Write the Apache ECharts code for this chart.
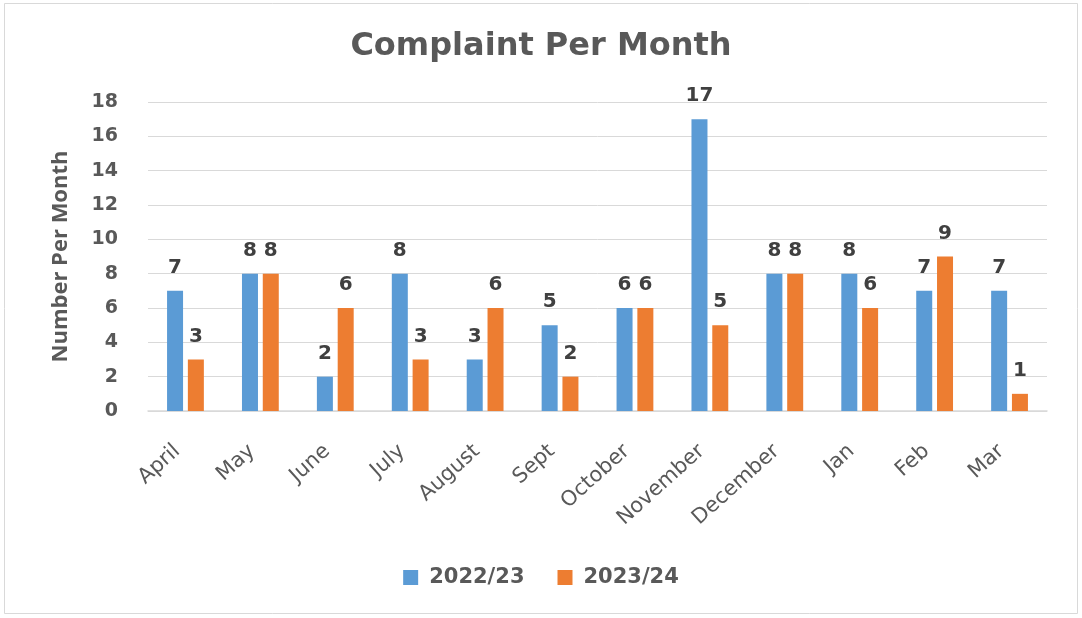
<!DOCTYPE html>
<html>
<head>
    <meta charset="utf-8">
    <script src="https://cdn.jsdelivr.net/npm/echarts@6/dist/echarts.min.js"></script>
    <style type="text/css">
        html, body { margin: 0; padding: 0; background: #fff; }
    </style>
</head>
<body>
    <div id="main" style="width: 1082px;height:618px;"></div>
    <script type="text/javascript">
        var months = ['April', 'May', 'June', 'July', 'August', 'Sept', 'October', 'November', 'December', 'Jan', 'Feb', 'Mar'];
        var year2223 = [7, 8, 2, 8, 3, 5, 6, 17, 8, 8, 7, 7];
        var year2324 = [3, 8, 6, 3, 6, 2, 6, 5, 8, 6, 9, 1];
        var yTicks = [0, 2, 4, 6, 8, 10, 12, 14, 16, 18];

        var font = 'DejaVu Sans';
        var grey = '#595959';

        var myChart = echarts.init(document.getElementById('main'));

        var labelStyle = {
            show: true,
            position: 'top',
            distance: 13,
            color: '#404040',
            fontFamily: font,
            fontWeight: 'bold',
            fontSize: 20
        };

        var option = {
            backgroundColor: '#fff',
            animation: false,
            graphic: [{
                type: 'rect',
                shape: { x: 4.5, y: 3.5, width: 1073, height: 610 },
                style: { fill: 'none', stroke: '#d9d9d9', lineWidth: 1 },
                silent: true
            }],
            title: {
                text: 'Complaint Per Month',
                left: 'center',
                top: 26,
                textStyle: { color: grey, fontFamily: font, fontWeight: 'bold', fontSize: 32 }
            },
            legend: {
                bottom: 25,
                left: 'center',
                itemWidth: 15,
                itemHeight: 15,
                itemGap: 33,
                icon: 'rect',
                textStyle: { color: grey, fontFamily: font, fontSize: 21, fontWeight: 'bold', padding: [0, 0, 0, 6] },
                data: ['2022/23', '2023/24']
            },
            grid: {
                left: 148,
                right: 35,
                top: 102,
                bottom: 207
            },
            xAxis: {
                type: 'category',
                data: months,
                axisLine: { lineStyle: { color: '#d9d9d9', width: 1.5 } },
                axisTick: { show: false },
                axisLabel: {
                    rotate: 42,
                    margin: 30,
                    padding: [0, 11, 0, 0],
                    interval: 0,
                    color: grey,
                    fontFamily: font,
                    fontSize: 21
                }
            },
            yAxis: {
                type: 'value',
                min: yTicks[0],
                max: yTicks[yTicks.length - 1],
                interval: 2,
                name: 'Number Per Month',
                nameLocation: 'middle',
                nameGap: 76,
                nameRotate: 90,
                nameTextStyle: { color: grey, fontFamily: 'Open Sans', fontWeight: 'bold', fontSize: 22 },
                axisLine: { show: false },
                axisTick: { show: false },
                splitLine: { lineStyle: { color: '#d9d9d9', width: 1 } },
                axisLabel: {
                    margin: 30,
                    color: grey,
                    fontFamily: font,
                    fontWeight: 'bold',
                    fontSize: 19
                }
            },
            series: [{
                name: '2022/23',
                type: 'bar',
                barWidth: 16,
                barGap: '30%',
                itemStyle: { color: '#5b9bd5' },
                label: labelStyle,
                data: year2223
            }, {
                name: '2023/24',
                type: 'bar',
                barWidth: 16,
                barGap: '30%',
                itemStyle: { color: '#ed7d31' },
                label: labelStyle,
                data: year2324
            }]
        };

        myChart.setOption(option);
    </script>
</body>
</html>
